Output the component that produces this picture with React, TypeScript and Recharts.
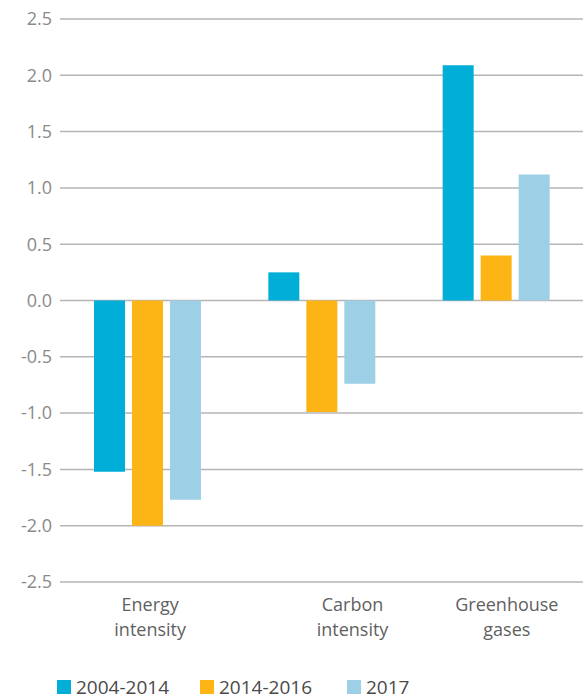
import { BarChart, Bar, XAxis, YAxis, CartesianGrid, Legend } from "recharts"

const categories = ["Energy intensity", "Carbon intensity", "Greenhouse gases"]
const period2004to2014 = [-1.52, 0.25, 2.09]
const period2014to2016 = [-2.0, -0.99, 0.4]
const year2017 = [-1.77, -0.74, 1.12]
const yTicks = [-2.5, -2.0, -1.5, -1.0, -0.5, 0, 0.5, 1.0, 1.5, 2.0, 2.5]

const seriesNames = ["2004-2014", "2014-2016", "2017"]
const colors = ["#00AED8", "#FDB515", "#9DCFE6"]

const chartData = categories.map((name, i) => ({
  name,
  a: period2004to2014[i],
  b: period2014to2016[i],
  c: year2017[i],
}))

// labels in the original don't sit exactly on their band centres
const labelShift: Record<string, number> = {
  "Energy intensity": 3,
  "Carbon intensity": 31,
  "Greenhouse gases": 11,
}

function CategoryTick(props: any) {
  const { x, y, payload } = props
  const words = String(payload.value).split(" ")
  const dx = labelShift[payload.value] ?? 0
  return (
    <g transform={`translate(${x + dx},${y})`}>
      {words.map((w, i) => (
        <text
          key={i}
          x={0}
          y={21 + i * 25}
          textAnchor="middle"
          fill="#5f5f5f"
          fontSize={18}
          fontFamily="'Open Sans', sans-serif"
        >
          {w}
        </text>
      ))}
    </g>
  )
}

function LegendBox() {
  const offsets = [57, 200, 347]
  return (
    <div style={{ position: "relative", height: 16, width: 583 }}>
      {seriesNames.map((s, i) => (
        <div
          key={s}
          style={{
            position: "absolute",
            left: offsets[i],
            top: 0,
            height: 16,
            display: "flex",
            alignItems: "center",
            fontFamily: "'Open Sans', sans-serif",
            fontSize: 19,
            color: "#4a4a4a",
            lineHeight: "16px",
          }}
        >
          <span style={{ width: 14, height: 14, background: colors[i], marginRight: 5, display: "inline-block" }} />
          {s}
        </div>
      ))}
    </div>
  )
}

export default function App() {
  return (
    <div style={{ position: "absolute", left: 0, top: 0, width: 583, height: 700, background: "#fff" }}>
      <BarChart
        width={583}
        height={700}
        data={chartData}
        margin={{ top: 19, right: 0, left: 0, bottom: 0 }}
        barSize={31}
        barGap={7}
      >
        <CartesianGrid vertical={false} stroke="#b5b5b5" strokeWidth={1.5} />
        <YAxis
          width={60}
          domain={[-2.5, 2.5]}
          ticks={yTicks}
          interval={0}
          axisLine={false}
          tickLine={false}
          tickFormatter={(v: number) => v.toFixed(1)}
          tick={{ fill: "#8a8a8a", fontSize: 18, fontFamily: "'Open Sans', sans-serif" }}
        />
        <XAxis
          dataKey="name"
          height={102}
          axisLine={false}
          tickLine={false}
          interval={0}
          tick={<CategoryTick />}
        />
        <Legend
          content={<LegendBox />}
          wrapperStyle={{ position: "absolute", left: 0, top: 679, width: 583 }}
        />
        <Bar dataKey="a" name={seriesNames[0]} fill={colors[0]} isAnimationActive={false} />
        <Bar dataKey="b" name={seriesNames[1]} fill={colors[1]} isAnimationActive={false} />
        <Bar dataKey="c" name={seriesNames[2]} fill={colors[2]} isAnimationActive={false} />
      </BarChart>
    </div>
  )
}
